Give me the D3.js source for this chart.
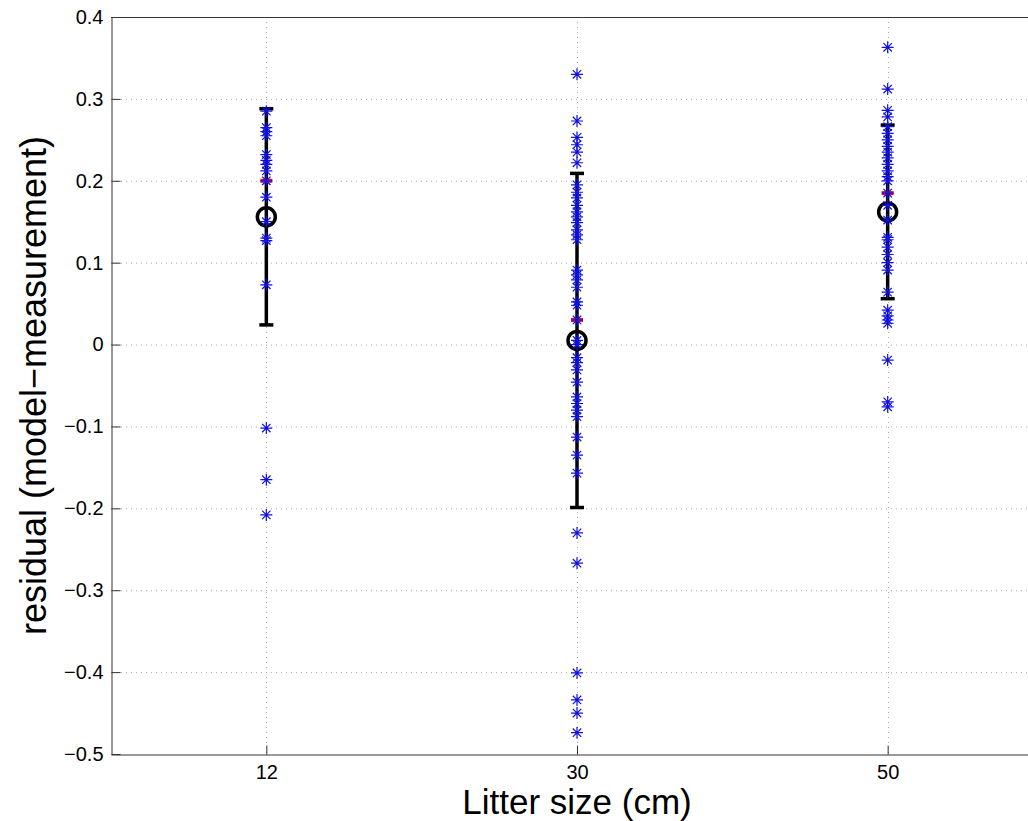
<!DOCTYPE html>
<html>
<head>
<meta charset="utf-8">
<script src="https://cdn.jsdelivr.net/npm/d3@7"></script>
<style>
  body { margin: 0; background: #fff; }
  text { font-family: "Liberation Sans", Arial, sans-serif; fill: #000; }
</style>
</head>
<body>
<div class="canvas"></div>
<script>
// data
const categories = ['12', '30', '50'];

const residuals12 = [0.285, 0.265, 0.26, 0.255, 0.232, 0.225, 0.22, 0.212, 0.2, 0.18,
  0.15, 0.13, 0.127, 0.073, -0.102, -0.165, -0.208];

const residuals30 = [0.330, 0.273, 0.253, 0.244, 0.235, 0.222, 0.195, 0.186, 0.179, 0.170,
  0.162, 0.156, 0.149, 0.140, 0.134, 0.128, 0.091, 0.085, 0.079, 0.070, 0.052, 0.048,
  0.03, 0.005, 0.0, -0.016, -0.022, -0.031, -0.046, -0.064, -0.072, -0.08, -0.088,
  -0.113, -0.135, -0.157, -0.23, -0.267, -0.401, -0.434, -0.450, -0.474];

const residuals50 = [0.363, 0.312, 0.286, 0.278, 0.266, 0.258, 0.25, 0.242, 0.235, 0.228,
  0.22, 0.212, 0.205, 0.2, 0.185, 0.17, 0.152, 0.131, 0.128, 0.119, 0.11, 0.1, 0.091,
  0.064, 0.042, 0.035, 0.03, 0.026, -0.019, -0.07, -0.076];

const means = [0.156, 0.005, 0.162];
const stds = [0.132, 0.204, 0.106];
const medians = [0.2, 0.03, 0.185];

const yTicks = [-0.5, -0.4, -0.3, -0.2, -0.1, 0, 0.1, 0.2, 0.3, 0.4];

const dims = {width: 1028, height: 821};
const margin = {left: 111, top: 17, right: 1043, bottom: 754};

const svg = d3.select('.canvas')
  .append('svg')
  .attr('width', dims.width)
  .attr('height', dims.height);

// categorical x positions 1..3 on a [0.5, 3.5] axis
const x = d3.scaleLinear().domain([0.5, 3.5]).range([margin.left, margin.right]);
const y = d3.scaleLinear().domain([-0.5, 0.4]).range([margin.bottom, margin.top]);

const tickFmt = d => d === 0 ? '0' : d3.format('.1f')(d).replace('-', '\u2212');

// grid
const grid = svg.append('g')
  .attr('stroke', '#aaa')
  .attr('stroke-width', 1)
  .attr('stroke-dasharray', '1,4');

grid.selectAll('.gy')
  .data(yTicks.filter(d => d > -0.5 && d < 0.4))
  .enter().append('line')
  .attr('x1', margin.left).attr('x2', margin.right)
  .attr('y1', d => y(d) + 0.5).attr('y2', d => y(d) + 0.5);

grid.selectAll('.gx')
  .data(categories)
  .enter().append('line')
  .attr('x1', (d, i) => Math.round(x(i + 1)) + 0.5)
  .attr('x2', (d, i) => Math.round(x(i + 1)) + 0.5)
  .attr('y1', margin.top).attr('y2', margin.bottom);

// axes (MATLAB style, ticks inward)
const yAxis = d3.axisLeft(y).tickValues(yTicks).tickFormat(tickFmt).tickSizeInner(-9).tickSizeOuter(0).tickPadding(8);
const xAxis = d3.axisBottom(x).tickValues([1, 2, 3]).tickFormat(d => categories[d - 1]).tickSizeInner(-9).tickSizeOuter(0).tickPadding(10);

const gy = svg.append('g').attr('transform', `translate(${margin.left + 0.5}, 0)`).call(yAxis);
const gx = svg.append('g').attr('transform', `translate(0, ${margin.bottom + 0.5})`).call(xAxis);

[gx, gy].forEach(g => {
  g.attr('font-size', null).attr('font-family', null);
  g.selectAll('path, line').attr('stroke', '#333');
  g.selectAll('text').style('font-size', '20px');
});

// top border
svg.append('line')
  .attr('x1', margin.left).attr('x2', margin.right)
  .attr('y1', margin.top + 0.5).attr('y2', margin.top + 0.5)
  .attr('stroke', '#333');

// labels
svg.append('text')
  .attr('x', x(2))
  .attr('y', 814)
  .attr('text-anchor', 'middle')
  .style('font-size', '35px')
  .text('Litter size (cm)');

svg.append('text')
  .attr('transform', `translate(46, ${(margin.top + margin.bottom) / 2}) rotate(-90)`)
  .attr('text-anchor', 'middle')
  .style('font-size', '36px')
  .text('residual (model\u2212measurement)');

// error bars
const bars = svg.append('g').attr('stroke', '#000').attr('stroke-width', 3.5);
means.forEach((m, i) => {
  const cx = x(i + 1);
  bars.append('line').attr('x1', cx).attr('x2', cx).attr('y1', y(m - stds[i])).attr('y2', y(m + stds[i]));
  bars.append('line').attr('x1', cx - 7).attr('x2', cx + 7).attr('y1', y(m - stds[i])).attr('y2', y(m - stds[i]));
  bars.append('line').attr('x1', cx - 7).attr('x2', cx + 7).attr('y1', y(m + stds[i])).attr('y2', y(m + stds[i]));
});

// medians (red)
svg.append('g').selectAll('line')
  .data(medians)
  .enter().append('line')
  .attr('x1', (d, i) => x(i + 1) - 6).attr('x2', (d, i) => x(i + 1) + 6)
  .attr('y1', d => y(d)).attr('y2', d => y(d))
  .attr('stroke', '#e0102a').attr('stroke-width', 4);

// mean circles
svg.append('g').selectAll('circle')
  .data(means)
  .enter().append('circle')
  .attr('cx', (d, i) => x(i + 1))
  .attr('cy', d => y(d))
  .attr('r', 9)
  .attr('fill', 'none')
  .attr('stroke', '#000')
  .attr('stroke-width', 3.5);

// star markers
const starPath = (s) => `M${-s},0H${s}M0,${-s}V${s}M${-s * 0.7},${-s * 0.7}L${s * 0.7},${s * 0.7}M${-s * 0.7},${s * 0.7}L${s * 0.7},${-s * 0.7}`;

const groups = [residuals12, residuals30, residuals50];
groups.forEach((vals, i) => {
  svg.append('g').selectAll('path')
    .data(vals)
    .enter().append('path')
    .attr('transform', d => `translate(${x(i + 1)}, ${y(d)})`)
    .attr('d', starPath(6))
    .attr('stroke', '#1010e0')
    .attr('stroke-width', 1.2)
    .attr('fill', 'none');
});
</script>
</body>
</html>
